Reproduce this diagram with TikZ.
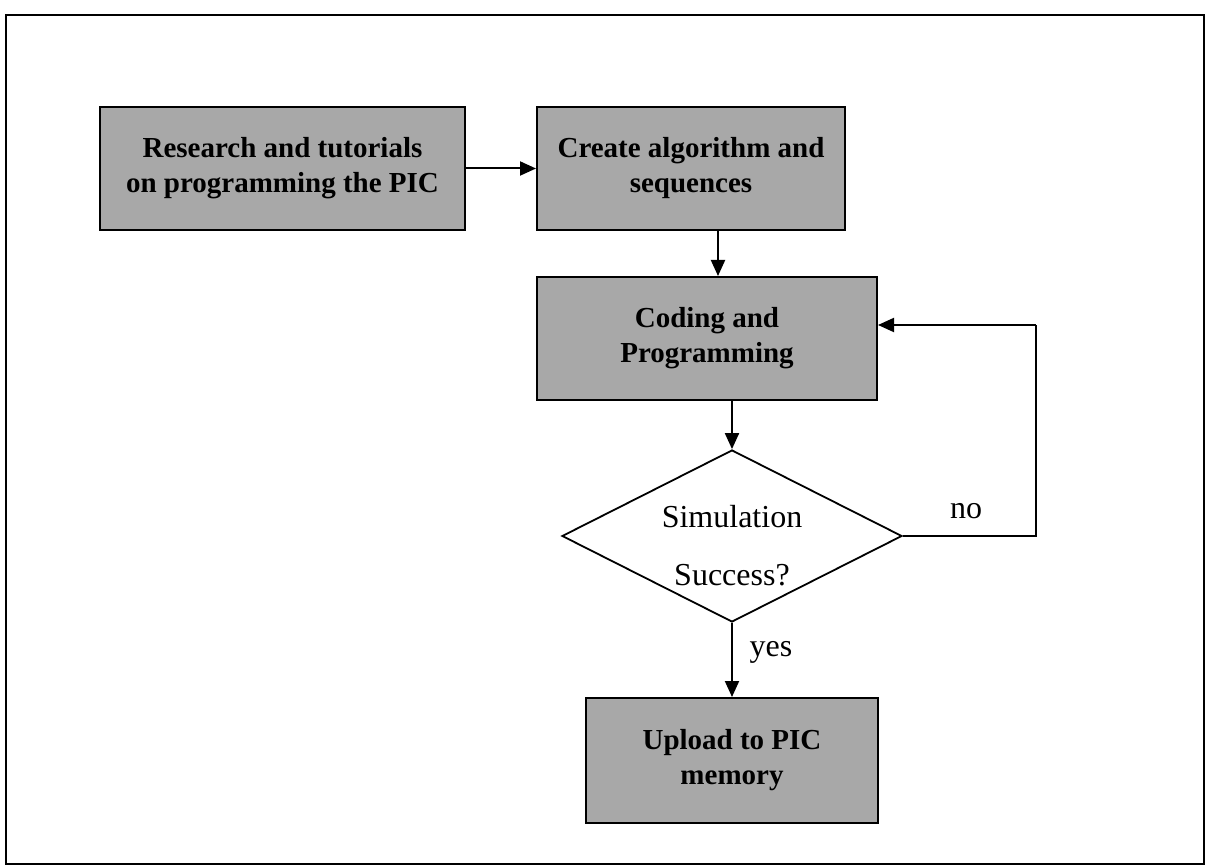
\documentclass[tikz,border=0pt]{standalone}
\usepackage{fontspec}
\setmainfont{Liberation Serif}
\usetikzlibrary{shapes.geometric,arrows.meta}
\definecolor{boxgray}{RGB}{168,168,168}
\tikzset{
  pbox/.style={draw=black, line width=1pt, fill=boxgray, inner sep=0pt, align=center,
    font=\fontsize{14.5}{17.5}\selectfont\bfseries},
  dec/.style={draw=black, line width=0.9pt, shape=diamond, inner sep=0pt, aspect=2},
  dtext/.style={font=\fontsize{16}{19}\selectfont, inner sep=0pt},
  arr/.style={line width=1pt, -{Triangle[length=8pt,width=7pt]}},
  ln/.style={line width=1pt}
}
\begin{document}
\begin{tikzpicture}[x=0.5pt,y=-0.5pt]
\useasboundingbox (0,0) rectangle (1206,866);
\draw[line width=1.1pt] (6,15) rectangle (1204,864);

\node[pbox, minimum width=182.5pt, minimum height=61.5pt] (b1) at (282.5,168.5) {Research and tutorials\\on programming the PIC};
\node[pbox, minimum width=154pt, minimum height=61.5pt] (b2) at (691,168.5) {Create algorithm and\\sequences};
\node[pbox, minimum width=170pt, minimum height=61.5pt] (b3) at (707,338.5) {Coding and\\Programming};
\node[dec, minimum width=170pt, minimum height=86pt] (d) at (732,536) {};
\node[dtext] (sim) at (732,517) {Simulation};
\node[dtext] (suc) at (732,575) {Success?};
\node[pbox, minimum width=146pt, minimum height=62.5pt] (b4) at (732,760.5) {Upload to PIC\\memory};

\coordinate (lp) at (1036,325);
\coordinate (c2) at (718,0);

\draw[arr] (b1.east) -- (b2.west);
\draw[arr] (b2.south -| c2) -- (b3.north -| c2);
\draw[arr] (b3.south -| d.north) -- (d.north);
\draw[ln] (d.east) -| (lp);
\draw[arr] (lp) -- (lp -| b3.east);
\draw[arr] (d.south) -- (b4.north);

\node[dtext] (no) at (966,511) {no};
\node[dtext] (yes) at (771,652) {yes};
\end{tikzpicture}
\end{document}
